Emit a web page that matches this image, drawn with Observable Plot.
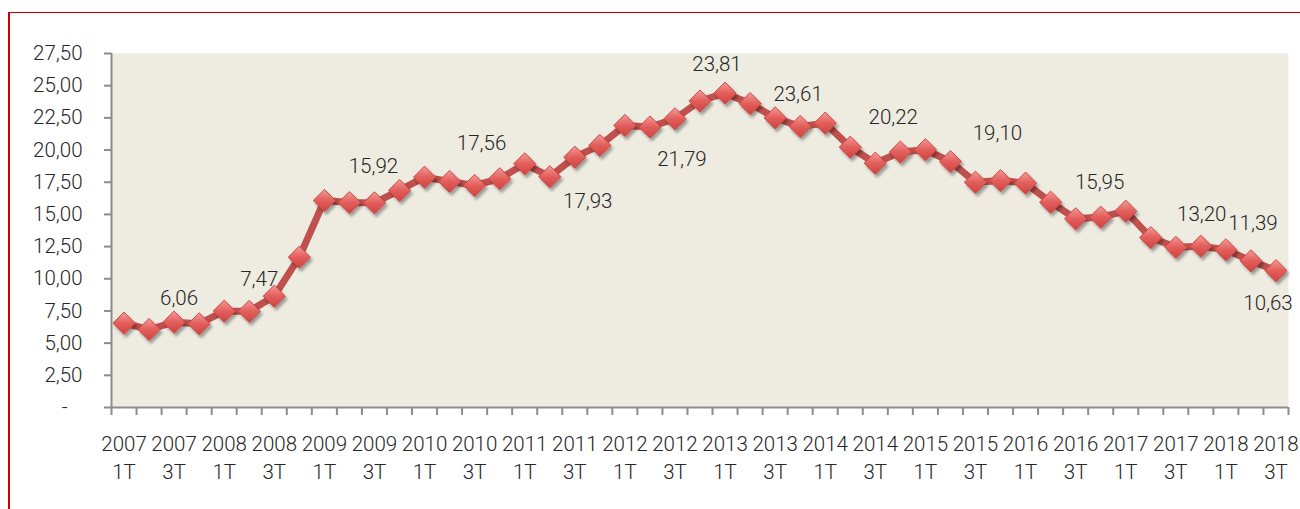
<!DOCTYPE html>
<html>
<head>
<meta charset="utf-8">
<script src="https://cdn.jsdelivr.net/npm/d3@7"></script>
<script src="https://cdn.jsdelivr.net/npm/@observablehq/plot@0.6"></script>
<style>
  html, body { margin: 0; padding: 0; background: #fff; overflow: hidden; }
  #frame { position: absolute; left: 8px; top: 12px; width: 1400px; height: 600px;
           border-top: 1.5px solid #CC0000; border-left: 2px solid #CC0000; }
  #chart { position: absolute; left: 0; top: 0; }
  svg text { font-family: Roboto, "Liberation Sans", sans-serif; font-weight: 300; }
</style>
</head>
<body>
<div id="frame"></div>
<div id="chart"></div>
<script>
// ---- data ----
const years = ["2007","2008","2009","2010","2011","2012","2013","2014","2015","2016","2017","2018"];
const quarters = ["1T","2T","3T","4T"];
const categories = years.flatMap(y => quarters.map(q => `${y}\n${q}`)).slice(0, 47);
const values = [
  6.55, 6.06, 6.63, 6.50,
  7.48, 7.47, 8.65, 11.68,
  16.08, 15.92, 15.90, 16.86,
  17.89, 17.56, 17.25, 17.77,
  18.93, 17.93, 19.45, 20.36,
  21.91, 21.79, 22.43, 23.81,
  24.42, 23.61, 22.50, 21.83,
  22.09, 20.22, 18.98, 19.84,
  20.02, 19.10, 17.50, 17.63,
  17.43, 15.95, 14.66, 14.79,
  15.25, 13.20, 12.45, 12.53,
  12.25, 11.39, 10.63
];
const labelIndex = [1, 5, 9, 13, 17, 21, 23, 25, 29, 33, 37, 41, 45, 46];
const yTicks = [0, 2.5, 5, 7.5, 10, 12.5, 15, 17.5, 20, 22.5, 25, 27.5];

// ---- layout (label nudges, in px) ----
const labelNudge = {
  1: [30, -31], 5: [10, -32], 9: [24, -36], 13: [32, -38], 17: [38, 25],
  21: [32, 32], 23: [17, -37], 25: [48, -9], 29: [43, -30], 33: [47, -28],
  37: [49, -20], 41: [51, -23], 45: [2, -37], 46: [-8, 33]
};

const data = values.map((v, i) => ({i, cat: categories[i], v}));
const fmt = v => v === 0 ? "-\u00a0\u00a0\u00a0" : v.toFixed(2).replace(".", ",");
const boundaries = d3.range(0, categories.length + 1).map(k => k - 0.5);
const labelTicks = d3.range(0, categories.length, 2);

const FS = 20.5;
const lineColor = "#C0504D";
const axisColor = "#8C8C8C";

const labelMarks = labelIndex.map(k => Plot.text([data[k]], {
  x: "i", y: "v", text: d => fmt(d.v),
  dx: labelNudge[k][0], dy: labelNudge[k][1],
  fontSize: FS, fill: "#262626", textAnchor: "middle", lineAnchor: "middle"
}));

const chart = Plot.plot({
  width: 1300,
  height: 509,
  marginLeft: 111,
  marginRight: 12,
  marginTop: 53,
  marginBottom: 102,
  style: { background: "transparent", fontSize: FS + "px", color: "#262626" },
  x: { type: "linear", domain: [-0.5, categories.length - 0.5] },
  y: { domain: [0, 27.5] },
  marks: [
    Plot.frame({ fill: "#EEECE1", stroke: "none" }),
    Plot.axisY({ ticks: yTicks, tickFormat: fmt, tickSize: 7, tickPadding: 22,
                 stroke: axisColor, strokeWidth: 2, fontSize: FS, label: null }),
    Plot.axisX({ ticks: boundaries, tickFormat: () => "", tickSize: 8,
                 stroke: axisColor, strokeWidth: 2, label: null }),
    Plot.axisX({ ticks: labelTicks, tickFormat: k => categories[k], tickSize: 0,
                 tickPadding: 23, lineHeight: 1.38, fontSize: FS, label: null }),
    Plot.ruleX([-0.5], { stroke: axisColor, strokeWidth: 2 }),
    Plot.ruleY([0], { stroke: axisColor, strokeWidth: 2 }),
    Plot.line(data, { x: "i", y: "v", stroke: lineColor, strokeWidth: 7, strokeLinejoin: "round" }),
    Plot.dot(data, { x: "i", y: "v", symbol: "diamond2", r: 10,
                     fill: "#E25E5B", stroke: "#C94A48", strokeWidth: 1,
                     className: "diamonds" }),
    ...labelMarks
  ]
});

// gradient & shadow definitions for the markers
const ns = "http://www.w3.org/2000/svg";
const defs = document.createElementNS(ns, "defs");
defs.innerHTML = `
  <linearGradient id="dgrad" x1="0" y1="0" x2="0" y2="1">
    <stop offset="0" stop-color="#F59A98"/>
    <stop offset="0.5" stop-color="#E25E5B"/>
    <stop offset="1" stop-color="#D04340"/>
  </linearGradient>
  <filter id="dshadow" x="-50%" y="-50%" width="200%" height="200%">
    <feGaussianBlur in="SourceAlpha" stdDeviation="1.8"/>
    <feOffset dx="1.5" dy="3" result="b"/>
    <feComponentTransfer><feFuncA type="linear" slope="0.35"/></feComponentTransfer>
    <feMerge><feMergeNode/><feMergeNode in="SourceGraphic"/></feMerge>
  </filter>`;
chart.insertBefore(defs, chart.firstChild);
chart.querySelectorAll("g.diamonds, .diamonds").forEach(g => {
  g.setAttribute("fill", "url(#dgrad)");
  g.querySelectorAll("path").forEach(p => {
    p.setAttribute("fill", "url(#dgrad)");
    p.setAttribute("filter", "url(#dshadow)");
  });
});
document.getElementById("chart").appendChild(chart);
</script>
</body>
</html>
